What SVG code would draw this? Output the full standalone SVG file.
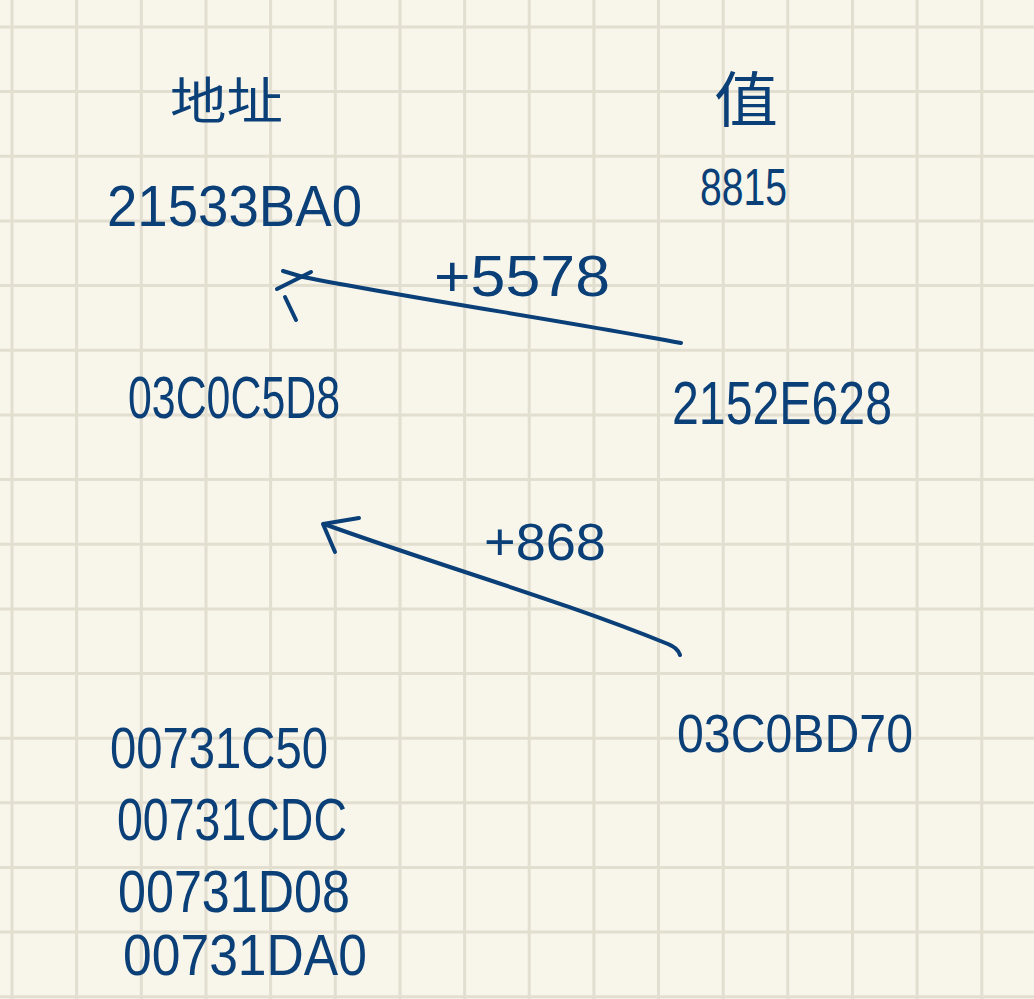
<svg xmlns="http://www.w3.org/2000/svg" width="1034" height="999" viewBox="0 0 1034 999">
<defs>
<style>
.grid{stroke:#e2ded0;stroke-width:3;fill:none}
.t{font-family:"Liberation Sans","Noto Sans CJK SC",sans-serif;fill:#0b3f78}
.c{stroke:#0b3f78;stroke-width:4;fill:none;stroke-linecap:round;stroke-linejoin:round}
</style>
</defs>
<rect width="1034" height="999" fill="#f8f6ea"/>
<path class="grid" d="M12 0V999M76.6 0V999M141.3 0V999M206 0V999M270.6 0V999M335.3 0V999M400 0V999M464.6 0V999M529.2 0V999M593.9 0V999M658.5 0V999M723.2 0V999M787.8 0V999M852.5 0V999M917.1 0V999M981.8 0V999M0 27H1034M0 91.6H1034M0 156.3H1034M0 221H1034M0 285.6H1034M0 350.3H1034M0 414.9H1034M0 479.6H1034M0 544.2H1034M0 608.9H1034M0 673.5H1034M0 738.2H1034M0 802.8H1034M0 867.5H1034M0 932.1H1034M0 996.8H1034"/>
<g id="connectors">
<g id="arrow-5578">
<path class="c" d="M681 343 C560 320 420 300 303 277 L283 271"/>
<path class="c" d="M311 272 L277 289"/>
<path class="c" d="M285 297 L296 320"/>
</g>
<g id="arrow-868">
<path class="c" d="M680 655 C678 649 674 647 668 644 C560 600 440 566 324 524"/>
<path class="c" d="M359 518 L323 524 L335 552"/>
</g>
</g>
<g id="label-5578"><text class="t" x="434" y="296" font-size="58" textLength="176" lengthAdjust="spacingAndGlyphs">+5578</text></g>
<g id="label-868"><text class="t" x="484" y="560" font-size="52" textLength="122" lengthAdjust="spacingAndGlyphs">+868</text></g>
<g id="head-addr"><text class="t" x="170" y="119" font-size="50" textLength="113" lengthAdjust="spacingAndGlyphs">地址</text></g>
<g id="head-val"><text class="t" x="714" y="122" font-size="60" textLength="64" lengthAdjust="spacingAndGlyphs">值</text></g>
<g id="addr-21533BA0"><text class="t" x="107" y="226" font-size="58" textLength="255" lengthAdjust="spacingAndGlyphs">21533BA0</text></g>
<g id="val-8815"><text class="t" x="700" y="205" font-size="52" textLength="87" lengthAdjust="spacingAndGlyphs">8815</text></g>
<g id="addr-03C0C5D8"><text class="t" x="128" y="418" font-size="60" textLength="212" lengthAdjust="spacingAndGlyphs">03C0C5D8</text></g>
<g id="val-2152E628"><text class="t" x="672" y="424" font-size="62" textLength="220" lengthAdjust="spacingAndGlyphs">2152E628</text></g>
<g id="val-03C0BD70"><text class="t" x="677" y="752" font-size="54" textLength="236" lengthAdjust="spacingAndGlyphs">03C0BD70</text></g>
<g id="addr-00731C50"><text class="t" x="110" y="768" font-size="58" textLength="218" lengthAdjust="spacingAndGlyphs">00731C50</text></g>
<g id="addr-00731CDC"><text class="t" x="117" y="840" font-size="60" textLength="230" lengthAdjust="spacingAndGlyphs">00731CDC</text></g>
<g id="addr-00731D08"><text class="t" x="118" y="912" font-size="60" textLength="232" lengthAdjust="spacingAndGlyphs">00731D08</text></g>
<g id="addr-00731DA0"><text class="t" x="123" y="975" font-size="58" textLength="244" lengthAdjust="spacingAndGlyphs">00731DA0</text></g>
</svg>
